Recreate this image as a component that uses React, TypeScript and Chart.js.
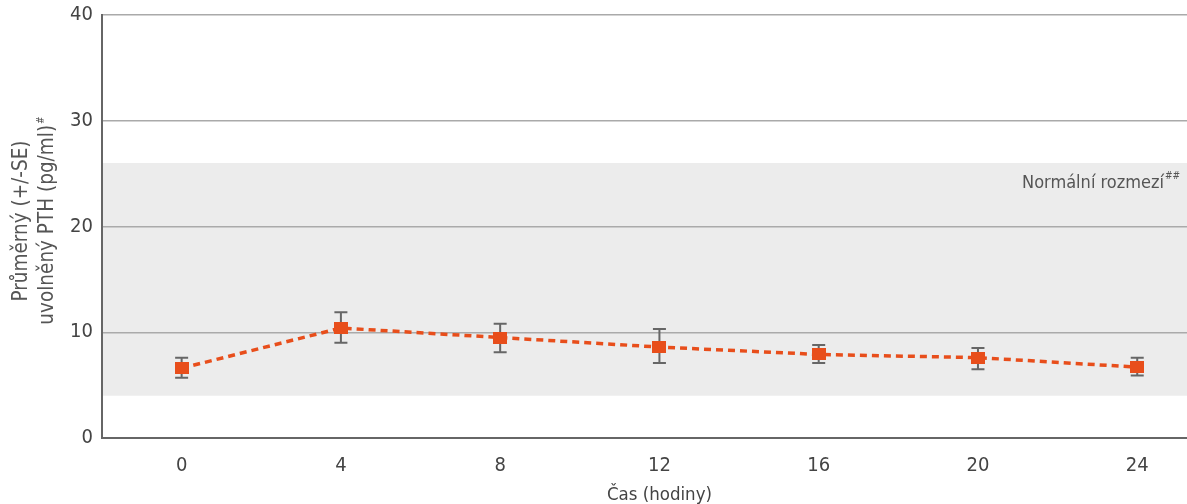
import React, { useEffect, useRef } from "react";
import { Chart, registerables } from "chart.js";

Chart.register(...registerables);

const hours = [0, 4, 8, 12, 16, 20, 24];
const meanPTH = [6.6, 10.4, 9.5, 8.6, 7.9, 7.6, 6.7];
const upperSE = [7.6, 11.9, 10.8, 10.3, 8.8, 8.5, 7.6];
const lowerSE = [5.7, 9.0, 8.1, 7.1, 7.1, 6.5, 5.9];
const normalRange = [4, 26];
const xTickValues = [0, 4, 8, 12, 16, 20, 24];
const yTickValues = [0, 10, 20, 30, 40];

const yTitleLines = ["Průměrný (+/-SE)", "uvolněný PTH (pg/ml)"];
const yTitleSup = "#";
const xTitle = "Čas (hodiny)";
const bandLabel = "Normální rozmezí";
const bandLabelSup = "##";

const FONT = "'Liberation Sans Narrow', 'DejaVu Sans Condensed', 'Roboto', sans-serif";
const ORANGE = "#e84e1b";

export default function App() {
  const ref = useRef<HTMLCanvasElement | null>(null);

  useEffect(() => {
    document.body.style.margin = "0";
    const canvas = ref.current!;

    const marker = document.createElement("canvas");
    marker.width = 14;
    marker.height = 12;
    const mctx = marker.getContext("2d")!;
    mctx.fillStyle = ORANGE;
    mctx.fillRect(0, 0, 14, 12);

    const decor = {
      id: "decor",
      beforeDraw(chart: any) {
        const { ctx, chartArea, scales } = chart;
        const y = scales.y;
        ctx.save();
        ctx.fillStyle = "#ececec";
        const top = y.getPixelForValue(normalRange[1]);
        const bot = y.getPixelForValue(normalRange[0]);
        ctx.fillRect(chartArea.left, top, chartArea.right - chartArea.left, bot - top);
        ctx.restore();
      },
      beforeDatasetsDraw(chart: any) {
        const { ctx, scales } = chart;
        const x = scales.x;
        const y = scales.y;
        ctx.save();
        ctx.strokeStyle = "#666666";
        ctx.lineWidth = 2;
        hours.forEach((h, i) => {
          const px = x.getPixelForValue(h);
          const pt = y.getPixelForValue(upperSE[i]);
          const pb = y.getPixelForValue(lowerSE[i]);
          ctx.beginPath();
          ctx.moveTo(px, pt);
          ctx.lineTo(px, pb);
          ctx.moveTo(px - 6.5, pt);
          ctx.lineTo(px + 6.5, pt);
          ctx.moveTo(px - 6.5, pb);
          ctx.lineTo(px + 6.5, pb);
          ctx.stroke();
        });
        ctx.restore();
      },
      afterDraw(chart: any) {
        const { ctx, chartArea, scales } = chart;
        const x = scales.x;
        const y = scales.y;
        ctx.save();
        // band label
        ctx.fillStyle = "#555555";
        ctx.textBaseline = "alphabetic";
        ctx.textAlign = "right";
        ctx.font = `10px ${FONT}`;
        const supW = ctx.measureText(bandLabelSup).width;
        const rightX = chartArea.right - 7;
        const by = y.getPixelForValue(normalRange[1]) + 25;
        ctx.fillText(bandLabelSup, rightX, by - 9);
        ctx.font = `18px ${FONT}`;
        ctx.fillText(bandLabel, rightX - supW - 1, by);

        // x title
        ctx.fillStyle = "#444444";
        ctx.font = `18.5px ${FONT}`;
        ctx.textAlign = "center";
        const cx = (x.getPixelForValue(0) + x.getPixelForValue(24)) / 2;
        ctx.fillText(xTitle, cx, 500);

        // y title
        ctx.fillStyle = "#555555";
        const cy = 221;
        ctx.translate(0, cy);
        ctx.rotate(-Math.PI / 2);
        ctx.font = `20.5px ${FONT}`;
        ctx.textAlign = "center";
        ctx.fillText(yTitleLines[0], 0, 27);
        const w2 = ctx.measureText(yTitleLines[1]).width;
        ctx.font = `10px ${FONT}`;
        const sw = ctx.measureText(yTitleSup).width;
        ctx.font = `20.5px ${FONT}`;
        ctx.textAlign = "left";
        const startX = -(w2 + sw) / 2;
        ctx.fillText(yTitleLines[1], startX, 53);
        ctx.font = `10px ${FONT}`;
        ctx.fillText(yTitleSup, startX + w2 + 1, 53 - 9);
        ctx.restore();
      },
    };

    const chart = new Chart(canvas, {
      type: "line",
      data: {
        labels: hours,
        datasets: [
          {
            data: hours.map((h, i) => ({ x: h, y: meanPTH[i] })),
            borderColor: ORANGE,
            backgroundColor: ORANGE,
            borderWidth: 3.5,
            borderDash: [7, 5],
            pointStyle: marker as any,
            pointRadius: 7,
            tension: 0,
            fill: false,
          },
        ],
      },
      options: {
        animation: false,
        responsive: false,
        maintainAspectRatio: false,
        layout: { autoPadding: false, padding: { top: 15, right: 0, left: 0, bottom: 0 } },
        plugins: { legend: { display: false }, tooltip: { enabled: false } },
        scales: {
          x: {
            type: "linear",
            min: -2,
            max: 25.25,
            afterBuildTicks(scale: any) {
              scale.ticks = xTickValues.map((v) => ({ value: v }));
            },
            afterFit(scale: any) {
              scale.height = 66;
              scale.paddingLeft = 0;
              scale.paddingRight = 0;
            },
            grid: { display: false, drawTicks: false },
            border: { display: true, color: "#666666", width: 2 },
            ticks: {
              padding: 16,
              color: "#444444",
              font: { family: FONT, size: 20 },
              maxRotation: 0,
            },
          },
          y: {
            type: "linear",
            min: 0,
            max: 40,
            afterBuildTicks(scale: any) {
              scale.ticks = yTickValues.map((v) => ({ value: v }));
            },
            afterFit(scale: any) {
              scale.width = 102;
              scale.paddingTop = 0;
              scale.paddingBottom = 0;
            },
            grid: { color: "#aaaaaa", lineWidth: 1.5, drawTicks: false },
            border: { display: true, color: "#666666", width: 2 },
            ticks: {
              padding: 9,
              color: "#444444",
              font: { family: FONT, size: 20 },
            },
          },
        },
      },
      plugins: [decor],
    });

    return () => chart.destroy();
  }, []);

  return (
    <div style={{ position: "absolute", left: 0, top: 0, width: 1187, height: 504 }}>
      <canvas ref={ref} width={1187} height={504} style={{ width: 1187, height: 504 }} />
    </div>
  );
}
